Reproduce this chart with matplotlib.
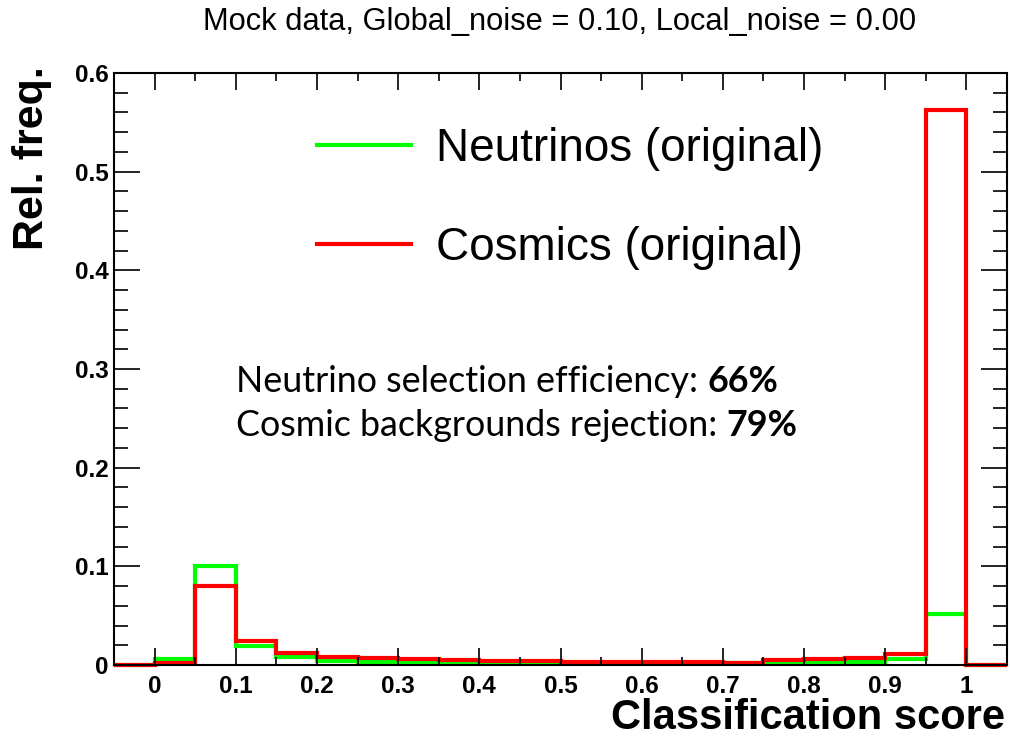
import numpy as np
import matplotlib
matplotlib.use("Agg")
import matplotlib.pyplot as plt
from matplotlib.ticker import MultipleLocator

# bin edges of the classification-score histogram (width 0.05)
bin_edges = np.round(np.arange(-0.05, 1.0501, 0.05), 2)

# relative frequency per bin
neutrinos = [0.0, 0.0058, 0.100, 0.0193, 0.0078, 0.0044, 0.0030, 0.0030, 0.0028,
             0.0025, 0.0025, 0.0020, 0.0020, 0.0020, 0.0020, 0.0018, 0.0020,
             0.0025, 0.0035, 0.0060, 0.0514, 0.0]
cosmics = [0.0, 0.0023, 0.080, 0.0243, 0.0125, 0.0081, 0.0068, 0.0058, 0.0055,
           0.0040, 0.0037, 0.0035, 0.0032, 0.0032, 0.0028, 0.0022, 0.0050,
           0.0058, 0.0070, 0.0115, 0.5625, 0.0]

labels = ["Neutrinos (original)", "Cosmics (original)"]
efficiency = "66%"
rejection = "79%"

W, H = 1010, 736
fig = plt.figure(figsize=(W / 100, H / 100), dpi=100)
ax = fig.add_axes([114 / W, 1 - 665 / H, (1007 - 114) / W, (665 - 73) / H])

ax.stairs(neutrinos, bin_edges, color="#00ff00", lw=3, label=labels[0], clip_on=False)
ax.stairs(cosmics, bin_edges, color="#ff0000", lw=3, label=labels[1], clip_on=False)

ax.set_xlim(-0.05, 1.05)
ax.set_ylim(0, 0.6)
ax.xaxis.set_major_locator(MultipleLocator(0.1))
ax.xaxis.set_minor_locator(MultipleLocator(0.05))
ax.yaxis.set_major_locator(MultipleLocator(0.1))
ax.yaxis.set_minor_locator(MultipleLocator(0.02))
ax.xaxis.set_major_formatter(lambda v, p: f"{v:g}")
ax.yaxis.set_major_formatter(lambda v, p: f"{v:g}")

ax.tick_params(which="both", direction="in", top=True, right=True, width=1.2)
ax.tick_params(axis="x", which="major", length=12, pad=7)
ax.tick_params(axis="x", which="minor", length=6)
ax.tick_params(axis="y", which="major", length=19, pad=4)
ax.tick_params(axis="y", which="minor", length=10)
for lab in ax.get_xticklabels() + ax.get_yticklabels():
    lab.set_fontweight("bold")
    lab.set_fontsize(17.5)
    lab.set_family("Liberation Sans")
for sp in ax.spines.values():
    sp.set_linewidth(1.5)

fig.text(560 / W, 1 - 22 / H, "Mock data, Global_noise = 0.10, Local_noise = 0.00",
         ha="center", va="center", fontsize=22.2, family="Liberation Sans")
fig.text(32 / W, 1 - 66 / H, "Rel. freq.", rotation=90, ha="center", va="top",
         fontsize=31, fontweight="bold", family="Liberation Sans")
fig.text(1005 / W, 1 - 718 / H, "Classification score", ha="right", va="center",
         fontsize=30, fontweight="bold", family="Liberation Sans")

ax.legend(loc="upper left", bbox_to_anchor=(317 / W, 1 - 127 / H),
          bbox_transform=fig.transFigure, frameon=False,
          prop={"family": "Liberation Sans", "size": 33},
          handlelength=2.05, handletextpad=0.55, labelspacing=1.2,
          borderpad=0, borderaxespad=0)

t1 = fig.text(236 / W, 1 - 381 / H, "Neutrino selection efficiency: ", ha="left",
              va="center", fontsize=25.8, family="Lato")
ax.annotate(efficiency, xy=(1, 0), xycoords=t1, va="bottom", ha="left",
            fontsize=25.8, fontweight="bold", family="Lato")
t2 = fig.text(236 / W, 1 - 425 / H, "Cosmic backgrounds rejection: ", ha="left",
              va="center", fontsize=25.8, family="Lato")
ax.annotate(rejection, xy=(1, 0), xycoords=t2, va="bottom", ha="left",
            fontsize=25.8, fontweight="bold", family="Lato")

fig.savefig("out.png", dpi=100)
